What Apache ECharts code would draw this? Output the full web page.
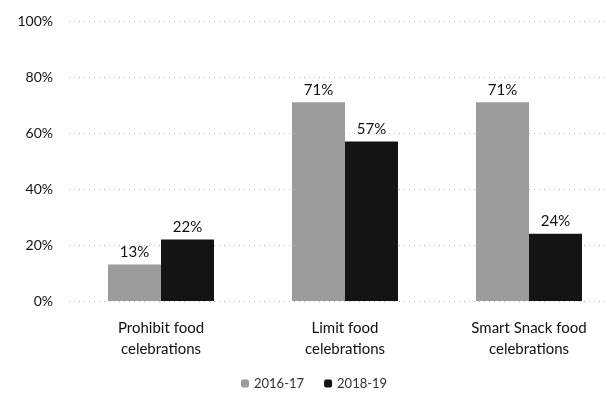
<!DOCTYPE html>
<html>
<head>
<meta charset="utf-8">
<script src="https://cdn.jsdelivr.net/npm/echarts@6/dist/echarts.min.js"></script>
<style>
  html, body { margin: 0; padding: 0; background: #fff; }
  #main { width: 607px; height: 400px; }
</style>
</head>
<body>
<div id="main"></div>
<script>
var categories = ['Prohibit food\ncelebrations', 'Limit food\ncelebrations', 'Smart Snack food\ncelebrations'];
var seriesNames = ['2016-17', '2018-19'];
var values1617 = [13, 71, 71];
var values1819 = [22, 57, 24];
var yTicks = [0, 20, 40, 60, 80, 100];

var font = 'Lato, "DejaVu Sans", sans-serif';

var myChart = echarts.init(document.getElementById('main'));

var option = {
    animation: false,
    grid: {
        left: 69,
        width: 552,
        top: 21,
        bottom: 99,
        outerBoundsMode: 'none'
    },
    legend: {
        bottom: 5,
        left: 236,
        itemWidth: 8,
        itemHeight: 8,
        itemGap: 20,
        textStyle: { fontFamily: font, fontSize: 13, color: '#333' },
        data: seriesNames
    },
    xAxis: {
        type: 'category',
        data: categories,
        axisLine: { show: false },
        axisTick: { show: false },
        axisLabel: {
            fontFamily: font,
            fontSize: 15,
            color: '#111',
            lineHeight: 21,
            margin: 17
        }
    },
    yAxis: {
        type: 'value',
        min: 0,
        max: 100,
        interval: 20,
        axisLine: { show: false },
        axisTick: { show: false },
        splitLine: { lineStyle: { color: '#bbb', type: [1, 4], width: 1 } },
        axisLabel: {
            fontFamily: font,
            fontSize: 14,
            color: '#111',
            margin: 16,
            formatter: function (v) { return yTicks.indexOf(v) >= 0 ? v + '%' : ''; }
        }
    },
    series: [
        {
            name: seriesNames[0],
            type: 'bar',
            data: values1617,
            barWidth: 53,
            barGap: '0%',
            itemStyle: { color: '#9c9c9c' },
            label: {
                show: true,
                position: 'top',
                distance: 5,
                fontFamily: font,
                fontSize: 15,
                color: '#111',
                formatter: '{c}%'
            }
        },
        {
            name: seriesNames[1],
            type: 'bar',
            data: values1819,
            barWidth: 53,
            barGap: '0%',
            itemStyle: { color: '#141414' },
            label: {
                show: true,
                position: 'top',
                distance: 5,
                fontFamily: font,
                fontSize: 15,
                color: '#111',
                formatter: '{c}%'
            }
        }
    ]
};

myChart.setOption(option, true);
</script>
</body>
</html>
